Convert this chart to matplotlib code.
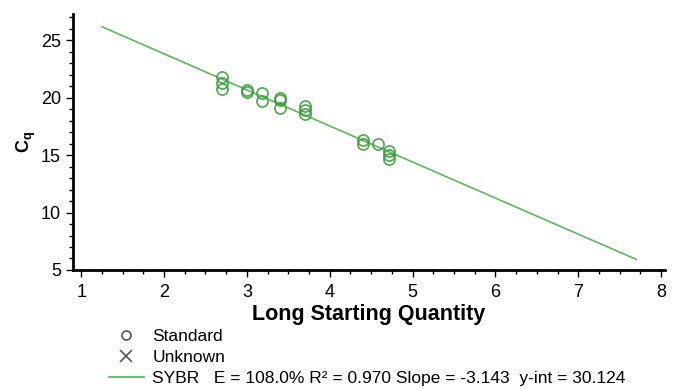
import matplotlib
matplotlib.use('Agg')
import matplotlib.pyplot as plt
from matplotlib.lines import Line2D
from matplotlib.ticker import MultipleLocator

matplotlib.rc('font', family=['Liberation Sans', 'DejaVu Sans'])

# standard points (log starting quantity, Cq)
std_x = [2.7, 2.7, 2.7, 3.0, 3.0, 3.18, 3.18, 3.4, 3.4, 3.4,
         3.7, 3.7, 3.7, 4.4, 4.4, 4.58, 4.72, 4.72, 4.72]
std_y = [21.8, 21.3, 20.8, 20.7, 20.5, 20.4, 19.7, 20.0, 19.8, 19.1,
         19.3, 18.9, 18.6, 16.3, 16.0, 16.0, 15.4, 15.0, 14.7]

# fitted standard curve end points
fit_x = [1.25, 7.7]
fit_y = [26.19, 5.92]

legend_labels = ['Standard', 'Unknown',
                 'SYBR   E = 108.0% R\u00b2 = 0.970 Slope = -3.143  y-int = 30.124']

green = '#3a9e3a'

fig = plt.figure(figsize=(6.81, 3.89), dpi=100, facecolor='w')
ax = fig.add_axes([0.107, 0.306, 0.870, 0.658])

ax.plot(fit_x, fit_y, color='#5cb85c', lw=1.2, zorder=2)
ax.plot(std_x, std_y, ls='none', marker='o', ms=8, mfc='none',
        mec=green, mew=1.3, alpha=0.85, zorder=3)

ax.set_xlim(0.9, 8.05)
ax.set_ylim(5, 27.3)
ax.xaxis.set_major_locator(MultipleLocator(1))
ax.xaxis.set_minor_locator(MultipleLocator(0.25))
ax.yaxis.set_major_locator(MultipleLocator(5))
ax.yaxis.set_minor_locator(MultipleLocator(1))

for s in ['top', 'right']:
    ax.spines[s].set_visible(False)
for s in ['left', 'bottom']:
    ax.spines[s].set_linewidth(2)

ax.tick_params(which='major', length=5, width=1, labelsize=13, direction='out')
ax.tick_params(which='minor', length=3, width=1, direction='out')
ax.tick_params(axis='x', pad=5)

ax.set_xlabel('Long Starting Quantity', fontsize=15.5, fontweight='bold', labelpad=2)
ax.set_ylabel(r'C$_\mathregular{q}$', fontsize=13, fontweight='bold', labelpad=2)

handles = [
    Line2D([], [], ls='none', marker='o', ms=6.5, mfc='none', mec='#555555', mew=1.2),
    Line2D([], [], ls='none', marker='x', ms=9, mec='#555555', mew=1.2),
    Line2D([], [], color='#5cb85c', lw=1.3),
]
fig.legend(handles, legend_labels, loc='upper left', bbox_to_anchor=(0.16, 0.155),
           frameon=False, fontsize=12.5, handlelength=2.0, handletextpad=0.5,
           labelspacing=0.35, borderaxespad=0, borderpad=0)

fig.savefig('out.png', dpi=100)
